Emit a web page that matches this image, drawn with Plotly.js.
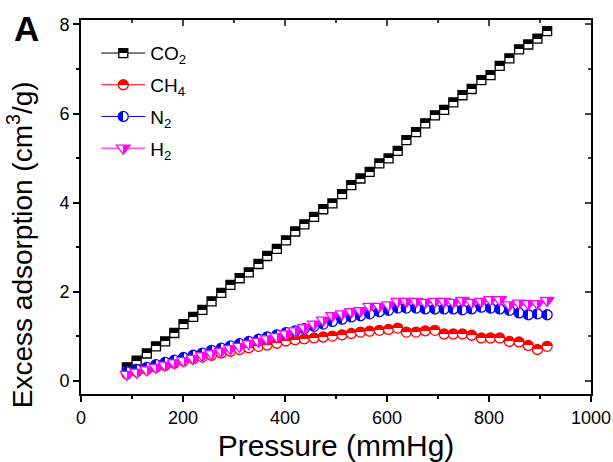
<!DOCTYPE html>
<html>
<head>
<meta charset="utf-8">
<script src="https://cdn.plot.ly/plotly-3.0.1.min.js"></script>
<style>
html,body{margin:0;padding:0;background:#fff;}
#chart{width:613px;height:462px;}
</style>
</head>
<body>
<div id="chart"></div>
<script>
// Pressure (mmHg)
var pressure = [90,109,129,147,165,183,201,220,238,256,275,293,311,329,348,365,384,402,420,438,457,475,
                493,512,530,548,566,585,603,621,638,657,675,694,712,730,748,766,785,803,821,840,859,877,895,914];
// Excess adsorption (cm3/g)
var co2 = [0.30,0.45,0.61,0.77,0.88,1.07,1.27,1.43,1.59,1.78,1.97,2.15,2.30,2.43,2.62,2.80,2.96,3.15,3.35,3.51,3.68,3.85,
           3.98,4.19,4.39,4.54,4.69,4.88,4.99,5.16,5.40,5.58,5.78,5.96,6.08,6.25,6.41,6.55,6.75,6.86,7.07,7.24,7.44,7.55,7.68,7.85];
var ch4 = [0.15,0.20,0.25,0.30,0.34,0.39,0.44,0.49,0.53,0.57,0.62,0.66,0.70,0.74,0.77,0.80,0.84,0.89,0.92,0.94,0.96,0.98,
           1.00,1.03,1.06,1.09,1.11,1.13,1.15,1.18,1.09,1.09,1.12,1.13,1.05,1.05,1.05,1.02,0.96,0.96,0.96,0.88,0.87,0.79,0.70,0.77];
var n2  = [0.20,0.25,0.30,0.36,0.41,0.46,0.52,0.57,0.62,0.68,0.73,0.78,0.83,0.88,0.93,0.98,1.03,1.08,1.12,1.17,1.22,1.27,
           1.33,1.38,1.43,1.46,1.50,1.55,1.58,1.63,1.63,1.63,1.61,1.61,1.61,1.61,1.59,1.61,1.65,1.63,1.61,1.58,1.52,1.48,1.50,1.48];
var h2  = [0.14,0.19,0.24,0.30,0.35,0.40,0.45,0.50,0.56,0.61,0.66,0.72,0.77,0.83,0.88,0.94,0.99,1.05,1.12,1.19,1.27,1.36,
           1.46,1.50,1.55,1.57,1.67,1.67,1.70,1.78,1.78,1.78,1.76,1.78,1.78,1.76,1.80,1.76,1.78,1.82,1.82,1.70,1.74,1.73,1.73,1.80];

var seriesNames = ['CO<sub>2</sub>','CH<sub>4</sub>','N<sub>2</sub>','H<sub>2</sub>'];
var FONT = 'Liberation Sans, Arial, Helvetica, sans-serif';

function mk(name, y, color, symbol, size, fillColor, gradColor, gradType, grp){
  return {
    type:'scatter', mode:'lines+markers', x: pressure, y: y, name: name,
    legendgroup: grp,
    line:{color:color, width:1},
    marker:{symbol:symbol, size:size, color:fillColor,
            gradient:{type:gradType, color:gradColor},
            line:{color:color, width:1.3}},
    hoverinfo:'skip'
  };
}

var data = [
  mk(seriesNames[0], co2, '#000000', 'square', 9, '#000000', '#ffffff', 'vertical', 'g1'),
  mk(seriesNames[1], ch4, '#ff0000', 'circle', 10, '#ff0000', '#ffffff', 'vertical', 'g2'),
  mk(seriesNames[2], n2,  '#0000ff', 'circle', 10, '#0000ff', '#ffffff', 'horizontal', 'g3'),
  mk(seriesNames[3], h2,  '#ff00ff', 'triangle-down', 12, '#ffffff', '#ff00ff', 'horizontal', 'g4'),
  {type:'scatter', x:[], y:[], xaxis:'x2', yaxis:'y2', showlegend:false, hoverinfo:'skip'}
];

var xr = [0,1000], yr = [-0.3,8.1];
var layout = {
  width:613, height:462,
  margin:{l:81, r:22, t:20, b:68},
  paper_bgcolor:'#ffffff', plot_bgcolor:'#ffffff',
  font:{family:FONT, color:'#000', size:18},
  showlegend:true,
  legend:{x:0.03, y:0.962, xanchor:'left', yanchor:'top', bgcolor:'rgba(0,0,0,0)',
          font:{family:FONT, size:19, color:'#000'}, traceorder:'grouped', tracegroupgap:4,
          itemwidth:44},
  xaxis:{range:xr, dtick:200, tick0:0, showline:true, linewidth:2, linecolor:'#000',
         ticks:'outside', ticklen:6, tickwidth:2, tickcolor:'#000',
         minor:{dtick:100, tick0:0, ticks:'outside', ticklen:3, tickwidth:2, tickcolor:'#000'},
         showgrid:false, zeroline:false, tickfont:{size:18, family:FONT},
         title:{text:'Pressure (mmHg)', font:{size:30, family:FONT}, standoff:10}},
  yaxis:{range:yr, dtick:2, tick0:0, showline:true, linewidth:2, linecolor:'#000',
         ticks:'outside', ticklen:6, tickwidth:2, tickcolor:'#000',
         minor:{dtick:1, tick0:0, ticks:'outside', ticklen:3, tickwidth:2, tickcolor:'#000'},
         showgrid:false, zeroline:false, tickfont:{size:18, family:FONT}},
  xaxis2:{overlaying:'x', side:'top', anchor:'y2', range:xr, dtick:200, tick0:0,
          showline:true, linewidth:2, linecolor:'#000', ticks:'inside', ticklen:6, tickwidth:2,
          minor:{dtick:100, tick0:0, ticks:'inside', ticklen:3, tickwidth:2},
          showticklabels:false, showgrid:false, zeroline:false},
  yaxis2:{overlaying:'y', side:'right', anchor:'x2', range:yr, dtick:2, tick0:0,
          showline:true, linewidth:2, linecolor:'#000', ticks:'inside', ticklen:6, tickwidth:2,
          minor:{dtick:1, tick0:0, ticks:'inside', ticklen:3, tickwidth:2},
          showticklabels:false, showgrid:false, zeroline:false},
  annotations:[
    {text:'<b>A</b>', xref:'paper', yref:'paper', x:-0.135, y:1.035,
     xanchor:'left', yanchor:'top', showarrow:false, font:{size:35, family:FONT, color:'#000'}},
    {text:'Excess adsorption (cm<sup>3</sup>/g)', xref:'paper', yref:'paper', x:-0.118, y:0.4,
     xanchor:'center', yanchor:'middle', textangle:-90, showarrow:false,
     font:{size:28, family:FONT, color:'#000'}}
  ]
};

function hardenGradients(){
  var grads = document.querySelectorAll('#chart linearGradient');
  grads.forEach(function(g){
    var stops = Array.prototype.slice.call(g.querySelectorAll('stop'));
    if(stops.length < 2 || g.getAttribute('data-hard')) return;
    stops.sort(function(a,b){return parseFloat(a.getAttribute('offset'))-parseFloat(b.getAttribute('offset'));});
    var c1 = stops[0].getAttribute('stop-color'), c2 = stops[stops.length-1].getAttribute('stop-color');
    while(g.firstChild) g.removeChild(g.firstChild);
    [[0,c1],[0.5,c1],[0.5,c2],[1,c2]].forEach(function(s){
      var st = document.createElementNS('http://www.w3.org/2000/svg','stop');
      st.setAttribute('offset', s[0]);
      st.setAttribute('stop-color', s[1]);
      g.appendChild(st);
    });
    g.setAttribute('data-hard','1');
  });
}

Plotly.newPlot('chart', data, layout, {staticPlot:true, displayModeBar:false}).then(function(){
  hardenGradients();
  setTimeout(hardenGradients, 50);
});
</script>
</body>
</html>
